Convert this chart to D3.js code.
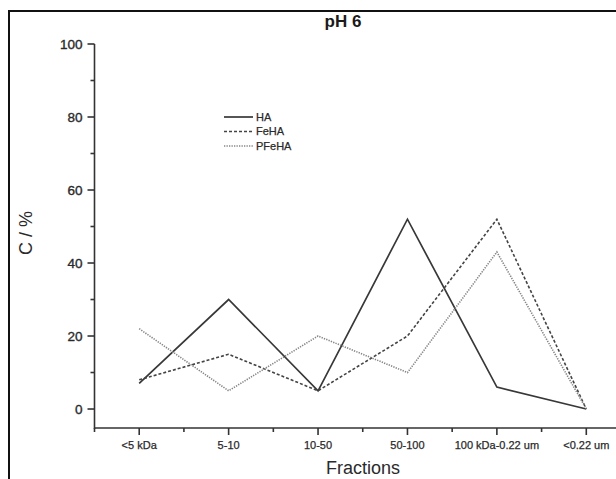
<!DOCTYPE html>
<html>
<head>
<meta charset="utf-8">
<script src="https://cdn.jsdelivr.net/npm/d3@7"></script>
<style>
  html, body { margin: 0; padding: 0; background: #fff; }
  svg { display: block; font-family: "Liberation Sans", Arial, Helvetica, sans-serif; }
</style>
</head>
<body>
<svg id="chart" width="616" height="479"></svg>
<script>
// Size fractions on the x axis
const fractions = ["<5 kDa", "5-10", "10-50", "50-100", "100 kDa-0.22 um", "<0.22 um"];
// Carbon distribution (%) per fraction
const haValues    = [7, 30, 5, 52, 6, 0];
const feHaValues  = [8, 15, 5, 20, 52, 0];
const pFeHaValues = [22, 5, 20, 10, 43, 0];
const seriesNames = ["HA", "FeHA", "PFeHA"];
const yTicks = [0, 20, 40, 60, 80, 100];
const yMinorTicks = [10, 30, 50, 70, 90];

const series = [
  { name: seriesNames[0], values: haValues,    color: "#383838", dash: null,      width: 1.7 },
  { name: seriesNames[1], values: feHaValues,  color: "#444444", dash: "3,2",     width: 1.6 },
  { name: seriesNames[2], values: pFeHaValues, color: "#858585", dash: "1.3,1.2", width: 1.6 }
];

const svg = d3.select("#chart");
const textColor = "#2a2a2a";

// Outer frame (cut at right and bottom edges)
svg.append("path")
  .attr("d", "M9,479 L9,11 L616,11")
  .attr("fill", "none")
  .attr("stroke", "#111")
  .attr("stroke-width", 2);

const x = d3.scaleLinear().domain([-0.5, 5.5]).range([94.5, 631]);
const y = d3.scaleLinear().domain([-5.2, 100]).range([428, 44]);

const axisColor = "#333";

// Y axis
const yAxis = svg.append("g").attr("transform", "translate(94.5,0)");
yAxis.append("line")
  .attr("y1", y(100)).attr("y2", y(-5.2) + 1)
  .attr("stroke", axisColor).attr("stroke-width", 1.6);
yAxis.selectAll(".ymaj").data(yTicks).join("line")
  .attr("x1", -7).attr("x2", 0)
  .attr("y1", d => y(d)).attr("y2", d => y(d))
  .attr("stroke", axisColor).attr("stroke-width", 1.6);
yAxis.selectAll(".ymin").data(yMinorTicks).join("line")
  .attr("x1", -4).attr("x2", 0)
  .attr("y1", d => y(d)).attr("y2", d => y(d))
  .attr("stroke", axisColor).attr("stroke-width", 1.6);
yAxis.selectAll("text").data(yTicks).join("text")
  .attr("x", -12).attr("y", d => y(d))
  .attr("dy", "0.35em")
  .attr("text-anchor", "end")
  .attr("font-size", 13.5)
  .attr("fill", textColor)
  .attr("stroke", textColor).attr("stroke-width", 0.35)
  .text(d => d);

// X axis
const xAxis = svg.append("g").attr("transform", `translate(0,${y(-5.2)})`);
xAxis.append("line")
  .attr("x1", x(-0.5)).attr("x2", 616)
  .attr("stroke", axisColor).attr("stroke-width", 1.6);
xAxis.selectAll(".xmaj").data(fractions).join("line")
  .attr("x1", (d, i) => x(i)).attr("x2", (d, i) => x(i))
  .attr("y1", 0).attr("y2", 7)
  .attr("stroke", axisColor).attr("stroke-width", 1.6);
xAxis.selectAll(".xmin").data(d3.range(-0.5, 5.5, 1)).join("line")
  .attr("x1", d => x(d)).attr("x2", d => x(d))
  .attr("y1", 0).attr("y2", 4)
  .attr("stroke", axisColor).attr("stroke-width", 1.6);
xAxis.selectAll("text").data(fractions).join("text")
  .attr("x", (d, i) => x(i)).attr("y", 21)
  .attr("text-anchor", "middle")
  .attr("font-size", 11)
  .attr("fill", textColor)
  .attr("stroke", textColor).attr("stroke-width", 0.25)
  .text(d => d);

// Axis titles
svg.append("text")
  .attr("x", 363).attr("y", 474)
  .attr("text-anchor", "middle")
  .attr("font-size", 18)
  .attr("fill", textColor)
  .text("Fractions");
svg.append("text")
  .attr("transform", "translate(32,233) rotate(-90)")
  .attr("text-anchor", "middle")
  .attr("font-size", 18)
  .attr("fill", textColor)
  .text("C / %");

// Title
svg.append("text")
  .attr("x", 343).attr("y", 27)
  .attr("text-anchor", "middle")
  .attr("font-size", 17)
  .attr("font-weight", "bold")
  .attr("fill", "#1a1a1a")
  .text("pH 6");

// Series lines
const line = d3.line().x((d, i) => x(i)).y(d => y(d));
svg.append("g").selectAll("path").data(series).join("path")
  .attr("d", s => line(s.values))
  .attr("fill", "none")
  .attr("stroke", s => s.color)
  .attr("stroke-width", s => s.width)
  .attr("stroke-dasharray", s => s.dash)
  .attr("stroke-linejoin", "miter");

// Legend
const legend = svg.append("g").attr("transform", "translate(224,117)");
const rows = legend.selectAll("g").data(series).join("g")
  .attr("transform", (d, i) => `translate(0,${i * 14.5})`);
rows.append("line")
  .attr("x1", 0).attr("x2", 29)
  .attr("stroke", d => d.color)
  .attr("stroke-width", d => d.width)
  .attr("stroke-dasharray", d => d.dash);
rows.append("text")
  .attr("x", 32).attr("dy", "0.35em")
  .attr("font-size", 11)
  .attr("fill", textColor)
  .attr("stroke", textColor).attr("stroke-width", 0.25)
  .text(d => d.name);
</script>
</body>
</html>
